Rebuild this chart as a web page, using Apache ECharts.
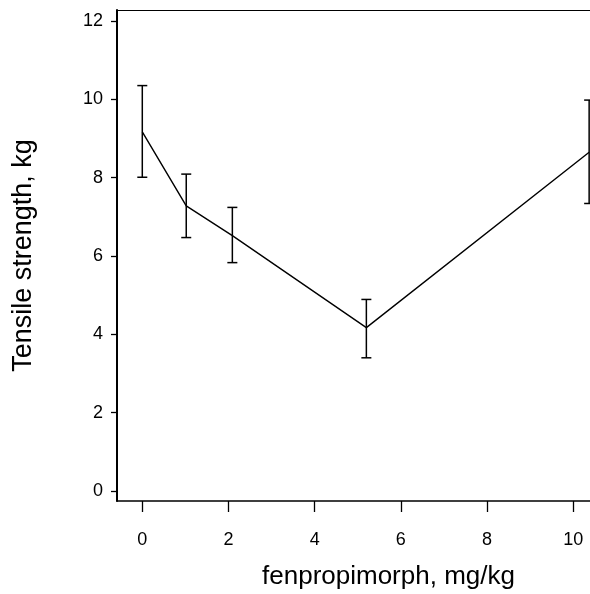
<!DOCTYPE html>
<html>
<head>
<meta charset="utf-8">
<script src="https://cdn.jsdelivr.net/npm/echarts@6/dist/echarts.min.js"></script>
<style>html,body{margin:0;padding:0;background:#fff}#c{width:590px;height:594px}</style>
</head>
<body>
<div id="c"></div>
<script>
const doses = [0, 1.02, 2.09, 5.2, 10.37];
const means = [9.17, 7.28, 6.52, 4.17, 8.65];
const upper = [10.35, 8.09, 7.24, 4.89, 9.98];
const lower = [8.01, 6.47, 5.83, 3.40, 7.34];
const xTicks = [0, 2, 4, 6, 8, 10];
const yTicks = [0, 2, 4, 6, 8, 10, 12];
const xTitle = 'fenpropimorph, mg/kg';
const yTitle = 'Tensile strength, kg';

const chart = echarts.init(document.getElementById('c'), null, {renderer: 'canvas'});
const font = 'Liberation Sans, Arial, Helvetica, sans-serif';
const lineData = doses.map((d, i) => [d, means[i]]);
const errData = doses.map((d, i) => [d, lower[i], upper[i]]);

chart.setOption({
  animation: false,
  backgroundColor: '#fff',
  grid: {left: 117, right: 0, top: 10, bottom: 93, containLabel: false, outerBoundsMode: 'none'},
  xAxis: [{
    type: 'value', min: -0.587, max: 10.39,
    axisLine: {show: true, onZero: false, lineStyle: {color: '#000', width: 1.5}},
    axisTick: {show: true, length: 11, customValues: xTicks, lineStyle: {color: '#000', width: 1.3}},
    axisLabel: {customValues: xTicks, color: '#000', fontSize: 18, fontFamily: font, margin: 30},
    splitLine: {show: false},
    name: xTitle, nameLocation: 'middle', nameGap: 63,
    nameTextStyle: {color: '#000', fontSize: 26, fontFamily: font, padding: [0, 0, 0, 70]}
  }, {
    type: 'value', position: 'top', min: -0.587, max: 10.39,
    axisLine: {show: true, onZero: false, lineStyle: {color: '#000', width: 1.2}},
    axisTick: {show: false}, axisLabel: {show: false}, splitLine: {show: false}
  }],
  yAxis: {
    type: 'value', min: -0.256, max: 12.28,
    axisLine: {show: true, onZero: false, lineStyle: {color: '#000', width: 2}},
    axisTick: {show: true, length: 6, customValues: yTicks, lineStyle: {color: '#000', width: 1.3}},
    axisLabel: {customValues: yTicks, color: '#000', fontSize: 18, fontFamily: font, margin: 14},
    splitLine: {show: false},
    name: yTitle, nameLocation: 'middle', nameGap: 80, nameRotate: 90,
    nameTextStyle: {color: '#000', fontSize: 27, fontFamily: font}
  },
  series: [{
    type: 'line', data: lineData, symbol: 'none',
    lineStyle: {color: '#000', width: 1.4}, z: 3
  }, {
    type: 'custom', data: errData, z: 4,
    renderItem: function (params, api) {
      const x = api.value(0);
      const lo = api.coord([x, api.value(1)]);
      const hi = api.coord([x, api.value(2)]);
      const hw = 5;
      const st = {stroke: '#000', lineWidth: 1.5, fill: null};
      return {type: 'group', children: [
        {type: 'line', shape: {x1: lo[0], y1: lo[1], x2: hi[0], y2: hi[1]}, style: st},
        {type: 'line', shape: {x1: hi[0] - hw, y1: hi[1], x2: hi[0] + hw, y2: hi[1]}, style: st},
        {type: 'line', shape: {x1: lo[0] - hw, y1: lo[1], x2: lo[0] + hw, y2: lo[1]}, style: st}
      ]};
    },
    encode: {x: 0, y: [1, 2]}
  }]
});
</script>
</body>
</html>
